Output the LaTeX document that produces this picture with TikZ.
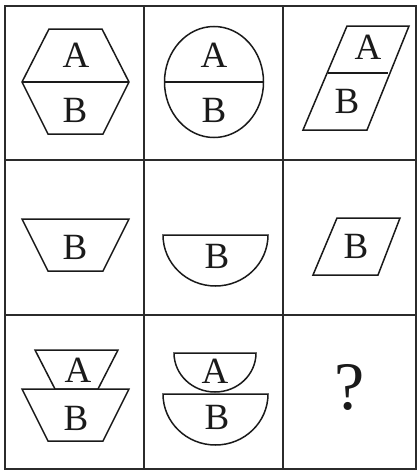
\documentclass[tikz,border=0pt]{standalone}
\usepackage{fontspec}
\setmainfont{Liberation Serif}
\usepackage{tikz}
\definecolor{Ink}{HTML}{1A1A1A}
\definecolor{Rule}{HTML}{2B2B2B}
\tikzset{
  grid/.style={draw=Rule, line width=1.8pt},
  outline/.style={draw=Ink, line width=1.5pt, line join=miter},
  letter/.style={text=Ink, inner sep=0pt, font=\fontsize{37}{37}\selectfont},
  query/.style={letter, font=\fontsize{68}{68}\selectfont},
}

\begin{document}
\begin{tikzpicture}[x=1pt, y=-1pt]
  \useasboundingbox (0,0) rectangle (417,471);
  % the grid
  \draw[grid] (5,6) rectangle (416,469);
  \draw[grid] (144,6) -- (144,469);
  \draw[grid] (283,6) -- (283,469);
  \draw[grid] (5,160) -- (416,160);
  \draw[grid] (5,315) -- (416,315);
  % row 1
  \draw[outline] (49,29) -- (102,29) -- (129,82) -- (103,134) -- (48,134) -- (22,82) -- cycle;
  \draw[outline] (22,82) -- (129,82);
  \node[letter] (hexa) at (76,55) {A};
  \node[letter] (hexb) at (75,110) {B};
  \draw[outline] (214,82) ellipse [x radius=49.5, y radius=55.5];
  \draw[outline] (164.5,82) -- (263.5,82);
  \node[letter] (ella) at (214,55) {A};
  \node[letter] (ellb) at (214,110) {B};
  \draw[outline] (347,26) -- (409,26) -- (367,130) -- (303,130) -- cycle;
  \draw[outline] (328,73) -- (388,73);
  \node[letter] (para) at (368,47) {A};
  \node[letter] (parb) at (347,101) {B};
  % row 2
  \draw[outline] (22,219) -- (129,219) -- (103,271) -- (48,271) -- cycle;
  \node[letter] (trapb) at (75,247) {B};
  \draw[outline] (268,235) -- (163,235)
    arc[start angle=180, end angle=0, x radius=52.5, y radius=51] -- cycle;
  \node[letter] (semib) at (217,256) {B};
  \draw[outline] (337,218) -- (400,218) -- (378,275) -- (313,275) -- cycle;
  \node[letter] (parbb) at (356,246) {B};
  % row 3
  \draw[outline] (35,350) -- (118,350) -- (98,389) -- (55,389) -- cycle;
  \draw[outline] (22,389) -- (129,389) -- (103,441) -- (48,441) -- cycle;
  \node[letter] (stacka) at (78,370) {A};
  \node[letter] (stackb) at (76,418) {B};
  \draw[outline] (256,353) -- (174,353)
    arc[start angle=180, end angle=0, x radius=41, y radius=39] -- cycle;
  \draw[outline] (268,394) -- (163,394)
    arc[start angle=180, end angle=0, x radius=52.5, y radius=51] -- cycle;
  \node[letter] (bowla) at (215,371) {A};
  \node[letter] (bowlb) at (217,417) {B};
  \node[query] (ask) at (350,387) {?};
\end{tikzpicture}
\end{document}
